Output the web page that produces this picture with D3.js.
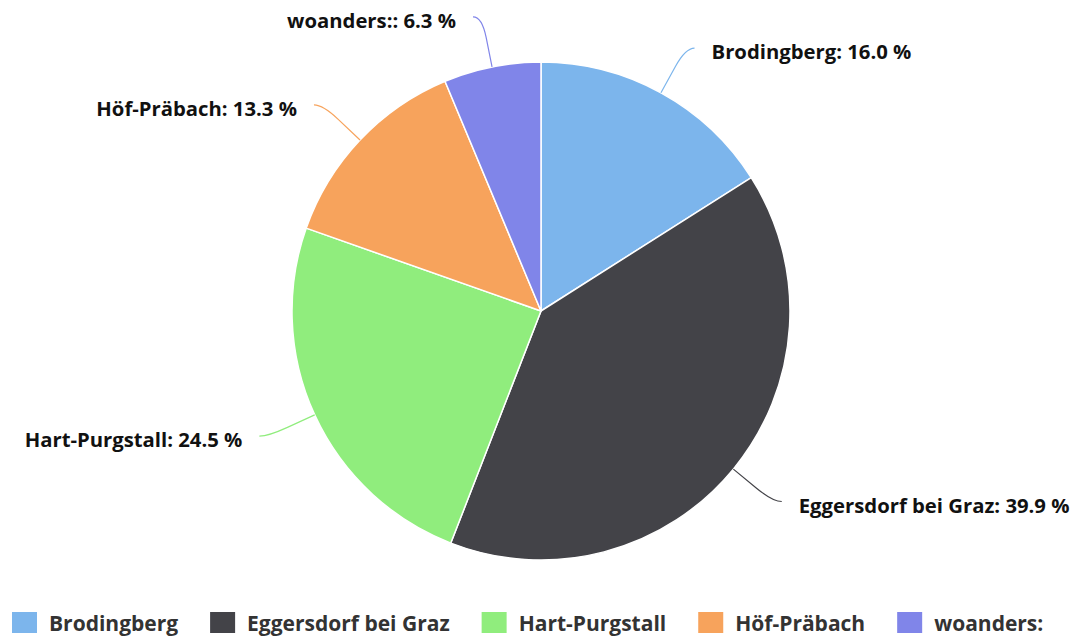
<!DOCTYPE html>
<html><head><meta charset="utf-8">
<script src="https://cdn.jsdelivr.net/npm/d3@7/dist/d3.min.js"></script>
<style>
html,body{margin:0;padding:0;background:#fff;}
svg{display:block;font-family:"Open Sans",sans-serif;}
</style></head>
<body><svg id="c" width="1079" height="638"></svg>
<script>
const categories = ["Brodingberg","Eggersdorf bei Graz","Hart-Purgstall","Höf-Präbach","woanders:"];
const values = [16.0, 39.9, 24.5, 13.3, 6.3];
const colors = ["#7cb5ec","#434348","#90ed7d","#f7a35c","#8085e9"];

const W = 1079, H = 638;
const cx = 541, cy = 311, R = 249;
const svg = d3.select("#c");
const data = categories.map((c,i)=>({name:c, value:values[i], color:colors[i]}));

const pie = d3.pie().sort(null).value(d=>d.value);
const arcs = pie(data);
const arc = d3.arc().innerRadius(0).outerRadius(R);
const g = svg.append("g").attr("transform",`translate(${cx},${cy})`);

g.selectAll("path.slice").data(arcs).enter().append("path")
  .attr("class","slice")
  .attr("d",arc)
  .attr("fill",d=>d.data.color)
  .attr("stroke","#fff").attr("stroke-width",1.5).attr("stroke-linejoin","round");

const pt = (a,r)=>[r*Math.sin(a), -r*Math.cos(a)];
const labR = 300, hook = 9, gap = 17;

arcs.forEach(d=>{
  const a = (d.startAngle+d.endAngle)/2;
  const right = Math.sin(a) >= 0;
  const P = pt(a,R);
  const Q = pt(a,labR);
  const M = pt(a,R+30);
  const L = [Q[0] + (right?hook:-hook), Q[1]];
  g.append("path")
    .attr("d",`M${L[0]},${L[1]} Q${Q[0]},${Q[1]} ${M[0]},${M[1]} L${P[0]},${P[1]}`)
    .attr("fill","none").attr("stroke",d.data.color).attr("stroke-width",1.2);
  const tx = L[0] + (right?gap:-gap);
  const txt = `${d.data.name}: ${d3.format(".1f")(d.data.value)} %`;
  g.append("text")
    .attr("x",tx).attr("y",L[1]+4)
    .attr("dy","0.35em")
    .attr("text-anchor",right?"start":"end")
    .attr("font-size",20.3).attr("font-weight",700)
    .attr("fill","#111")
    .attr("stroke","#fff").attr("stroke-width",0.6).attr("paint-order","stroke")
    .text(txt);
});

// legend
const lg = svg.append("g");
const items = lg.selectAll("g.item").data(data).enter().append("g").attr("class","item");
items.append("rect").attr("width",25).attr("height",21).attr("y",612).attr("fill",d=>d.color);
items.append("text").attr("y",624).attr("dy","0.35em")
  .attr("font-size",21).attr("font-weight",700).attr("fill","#333")
  .text(d=>d.name);
let x = 0;
items.each(function(){
  const it = d3.select(this);
  it.select("rect").attr("x",x);
  it.select("text").attr("x",x+37);
  const w = it.select("text").node().getComputedTextLength();
  x += 37 + w + 32;
});
lg.attr("transform",`translate(12,0)`);
</script>
</body></html>
